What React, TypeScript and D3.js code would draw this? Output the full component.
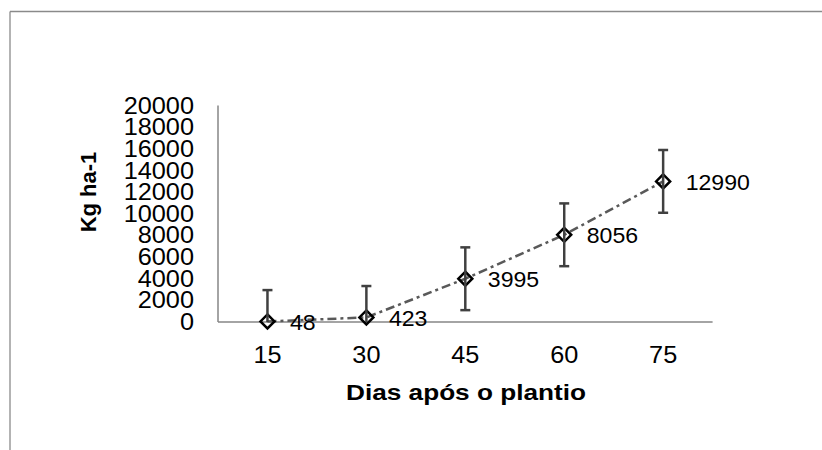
import React from "react";
import * as d3 from "d3";

const categories = ["15", "30", "45", "60", "75"];
const values = [48, 423, 3995, 8056, 12990];
const errors = [2900, 2900, 2900, 2900, 2900];
const yTicks = [0, 2000, 4000, 6000, 8000, 10000, 12000, 14000, 16000, 18000, 20000];

const W = 822;
const H = 450;
const plot = { left: 218, right: 712.6, top: 105.5, bottom: 322 };
const FONT = "'Liberation Sans', Arial, sans-serif";

export default function App() {
  const x = d3
    .scaleBand<string>()
    .domain(categories)
    .range([plot.left, plot.right])
    .padding(0);
  const y = d3.scaleLinear().domain([0, 20000]).range([plot.bottom, plot.top]);
  const cx = (c: string) => (x(c) ?? 0) + x.bandwidth() / 2;

  const line = d3
    .line<number>()
    .x((_, i) => cx(categories[i]))
    .y((d) => y(d));

  const diamond = (px: number, py: number, r: number) =>
    `M${px},${py - r}L${px + r},${py}L${px},${py + r}L${px - r},${py}Z`;

  return (
    <svg
      width={W}
      height={H}
      style={{ position: "absolute", left: 0, top: 0, background: "#fff" }}
    >
      <rect x={0} y={0} width={W} height={H} fill="#fff" />
      {/* outer chart border (partially visible) */}
      <line x1={10} y1={11.5} x2={W} y2={11.5} stroke="#8a8a8a" strokeWidth={1.3} />
      <line x1={10} y1={11.5} x2={10} y2={H} stroke="#8a8a8a" strokeWidth={1.3} />

      {/* axes */}
      <line x1={plot.left} y1={plot.top} x2={plot.left} y2={plot.bottom} stroke="#868686" strokeWidth={1.5} />
      <line x1={plot.left} y1={plot.bottom} x2={plot.right} y2={plot.bottom} stroke="#868686" strokeWidth={1.5} />

      {/* y tick labels */}
      {yTicks.map((t) => (
        <text
          key={t}
          x={0}
          y={0}
          transform={`translate(${194},${y(t)}) scale(1.1,1)`}
          textAnchor="end"
          dominantBaseline="central"
          fontFamily={FONT}
          fontSize={23}
          fill="#000"
        >
          {t}
        </text>
      ))}

      {/* x tick labels */}
      {categories.map((c) => (
        <text
          key={c}
          x={0}
          y={0}
          transform={`translate(${cx(c)},${355}) scale(1.1,1)`}
          textAnchor="middle"
          dominantBaseline="central"
          fontFamily={FONT}
          fontSize={23}
          fill="#000"
        >
          {c}
        </text>
      ))}

      {/* axis titles */}
      <text
        x={0}
        y={0}
        transform={`translate(${466},${392}) scale(1.19,1)`}
        textAnchor="middle"
        dominantBaseline="central"
        fontFamily={FONT}
        fontWeight="bold"
        fontSize={22}
        fill="#000"
      >
        Dias após o plantio
      </text>
      <text
        x={0}
        y={0}
        transform={`translate(${88},${192}) rotate(-90)`}
        textAnchor="middle"
        dominantBaseline="central"
        fontFamily={FONT}
        fontWeight="bold"
        fontSize={22}
        fill="#000"
      >
        Kg ha-1
      </text>

      {/* dashed trend line */}
      <path
        d={line(values) ?? ""}
        fill="none"
        stroke="#595959"
        strokeWidth={2.5}
        strokeDasharray="9,4,3,4"
      />

      {/* markers */}
      {values.map((v, i) => (
        <path
          key={"m" + i}
          d={diamond(cx(categories[i]), y(v), 7)}
          fill="none"
          stroke="#000"
          strokeWidth={2.5}
        />
      ))}

      {/* error bars */}
      {values.map((v, i) => {
        const px = cx(categories[i]);
        const top = y(v + errors[i]);
        const lowVal = v - errors[i];
        const clipped = lowVal < 0;
        const bot = y(Math.max(0, lowVal));
        return (
          <g key={"e" + i} stroke="#404040" strokeWidth={2.5}>
            <line x1={px} y1={top} x2={px} y2={bot} />
            <line x1={px - 5} y1={top} x2={px + 5} y2={top} />
            {!clipped && <line x1={px - 5} y1={bot} x2={px + 5} y2={bot} />}
          </g>
        );
      })}

      {/* data labels */}
      {values.map((v, i) => (
        <text
          key={"l" + i}
          x={0}
          y={0}
          transform={`translate(${cx(categories[i]) + 22.5},${y(v) + 1}) scale(1.05,1)`}
          textAnchor="start"
          dominantBaseline="central"
          fontFamily={FONT}
          fontSize={22}
          fill="#000"
        >
          {v}
        </text>
      ))}
    </svg>
  );
}
